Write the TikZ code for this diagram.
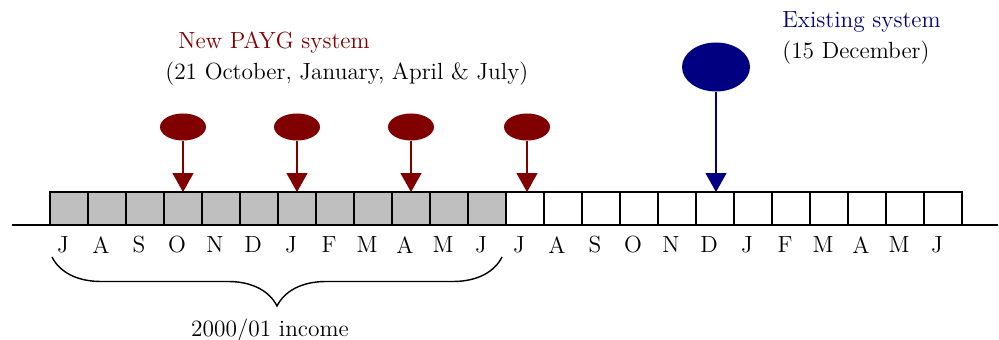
\documentclass[tikz,border=0pt]{standalone}
\usetikzlibrary{arrows.meta,decorations.pathreplacing,shapes.geometric}
\definecolor{paygred}{HTML}{800000}
\definecolor{oldblue}{HTML}{000080}
\tikzset{
  month/.style = {draw, line width=1.1pt, minimum width=0.76cm, minimum height=0.66cm,
                  inner sep=0pt, outer sep=0pt},
  paid/.style = {month, fill=gray!50},
  due/.style = {ellipse, fill=#1, inner sep=0pt},
  duearrow/.style = {draw=#1, line width=0.8pt, -{Triangle[width=0.42cm,length=0.38cm,fill=#1]}},
  lbl/.style = {font=\fontsize{13.3}{16}\selectfont, inner sep=0pt}
}
\begin{document}
\begin{tikzpicture}[x=0.02cm, y=-0.02cm]
\useasboundingbox (0,0) rectangle (999,340);
% time line
\coordinate (tl) at (12,225);
\coordinate (tr) at (998,225);
\draw [line width=1.1pt] (tl) -- (tr);
% month boxes, first year shaded
\foreach \i in {1,...,24} {
  \ifnum\i<13
    \node [paid] (m\i) at (50+38*\i-19, 208.5) {};
  \else
    \node [month] (m\i) at (50+38*\i-19, 208.5) {};
  \fi
}
\foreach \m [count=\i] in {J,A,S,O,N,D,J,F,M,A,M,J,J,A,S,O,N,D,J,F,M,A,M,J}
  \node [lbl, anchor=north] (l\i) at (50+38*\i-25, 236) {\m};
% instalment dates
\node [due=paygred, minimum width=0.92cm, minimum height=0.54cm] (p1) at (183,127) {};
\node [due=paygred, minimum width=0.92cm, minimum height=0.54cm] (p2) at (297,127) {};
\node [due=paygred, minimum width=0.92cm, minimum height=0.54cm] (p3) at (411,127) {};
\node [due=paygred, minimum width=0.92cm, minimum height=0.54cm] (p4) at (527,127) {};
\draw [duearrow=paygred] (p1.south) -- (p1.south |- m4.north);
\draw [duearrow=paygred] (p2.south) -- (p2.south |- m7.north);
\draw [duearrow=paygred] (p3.south) -- (p3.south |- m10.north);
\draw [duearrow=paygred] (p4.south) -- (p4.south |- m13.north);
\node [due=oldblue, minimum width=1.36cm, minimum height=0.98cm] (e1) at (716,67) {};
\draw [duearrow=oldblue] (e1.south) -- (e1.south |- m18.north);
% captions
\node [lbl, anchor=base west, text=paygred] (pt) at (178,49) {New PAYG system};
\node [lbl, anchor=base west] (pd) at (165,80) {(21 October, January, April \& July)};
\node [lbl, anchor=base west, text=oldblue] (et) at (782,28) {Existing system};
\node [lbl, anchor=base west] (ed) at (782,59) {(15 December)};
% income year
\coordinate (bl) at (52,257);
\coordinate (br) at (502,257);
\draw [line width=0.8pt, decorate, decoration={brace, mirror, amplitude=0.98cm}] (bl) -- (br);
\node [lbl, anchor=base] (inc) at (270,337) {2000/01 income};
\end{tikzpicture}
\end{document}
